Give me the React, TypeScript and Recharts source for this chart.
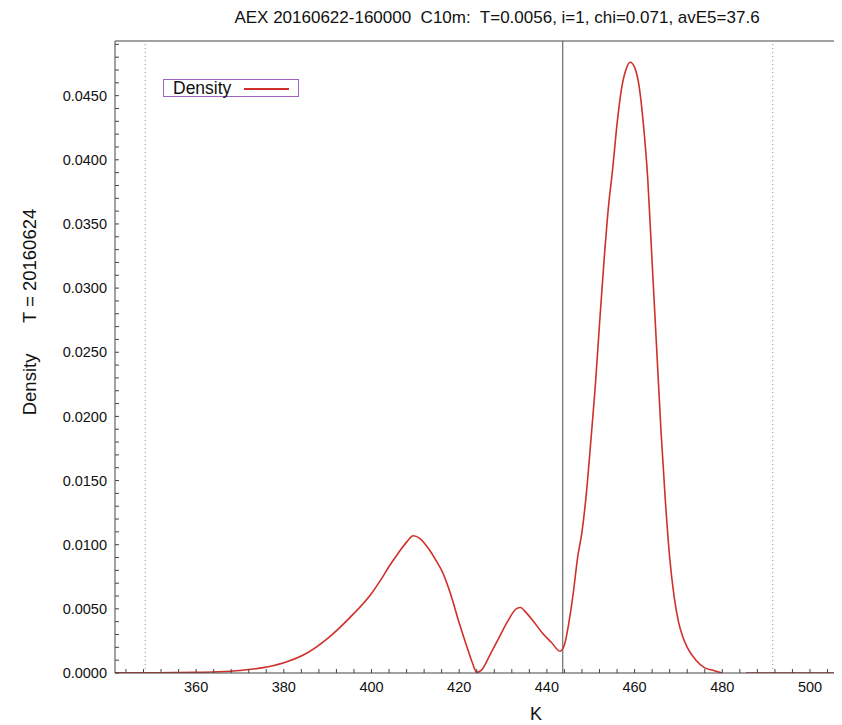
import React from "react";
import { LineChart, Line, XAxis, YAxis, ReferenceLine } from "recharts";

const K_VALUES: number[] = [
  341.5, 345, 350, 355, 360, 365, 370, 375, 380, 385, 390, 395, 400, 402, 404, 406, 408, 409.5, 411, 413,
  415, 416, 418, 420, 422, 423, 424, 425, 427, 429, 431, 433, 434, 435, 437, 439, 441, 443, 444, 445,
  446, 447, 448, 449, 450, 451, 452, 453, 454, 455, 456, 457, 458, 459, 460, 461, 462, 463, 464, 465,
  466, 467, 468, 469, 470, 471, 472, 474, 476, 478, 480, 482, 485.4, 490, 495, 500, 507.3,
];
const DENSITY: (number | null)[] = [
  0.00001, 0.00001, 0.00002, 0.00003, 0.00005, 0.0001, 0.0002, 0.0004, 0.0008, 0.0015, 0.0027, 0.0043, 0.0062, 0.0072, 0.0083, 0.0093, 0.0102, 0.0107, 0.0105, 0.0097,
  0.0086, 0.008, 0.0062, 0.0039, 0.0018, 0.0008, 0.00005, 0.0002, 0.0014, 0.0027, 0.004, 0.005, 0.0051, 0.0048, 0.004, 0.0031, 0.0024, 0.0017, 0.0022, 0.0039,
  0.0062, 0.009, 0.011, 0.014, 0.018, 0.0222, 0.0272, 0.032, 0.0362, 0.0393, 0.0428, 0.0455, 0.047, 0.0476, 0.0472, 0.0458, 0.0428, 0.0385, 0.032, 0.0255,
  0.019, 0.0135, 0.009, 0.006, 0.004, 0.0028, 0.002, 0.001, 0.0004, 0.0002, 0.0, null, 0.0, 0.0, 0.0, 0.0, 0.0,
];

const X_MAJOR_TICKS: number[] = [360, 380, 400, 420, 440, 460, 480, 500];
const Y_MAJOR_TICKS: number[] = [0, 0.005, 0.01, 0.015, 0.02, 0.025, 0.03, 0.035, 0.04, 0.045];
const X_DOMAIN: [number, number] = [341.5, 507.3];
const Y_DOMAIN: [number, number] = [0, 0.04926];
const CURRENT_K = 443.6;
const BAND_K: number[] = [348.4, 491.5];

const TITLE = "AEX 20160622-160000  C10m:  T=0.0056, i=1, chi=0.071, avE5=37.6";
const Y_LABEL = "Density      T = 20160624";
const X_LABEL = "K";
const SERIES_NAME = "Density";

const data = K_VALUES.map((k, i) => ({ k, v: DENSITY[i] }));

const xTicks: number[] = [];
for (let t = 344; t <= 507; t += 4) xTicks.push(t);
const yTicks: number[] = [];
for (let i = 0; i <= 49; i++) yTicks.push(Math.round(i * 1000) / 1000000);

const isXMajor = (v: number) => X_MAJOR_TICKS.includes(v);
const isYMajor = (v: number) => Y_MAJOR_TICKS.some((m) => Math.abs(m - v) < 1e-9);

const FONT = "'Liberation Sans', Arial, Helvetica, sans-serif";
const AXIS = "#444";
const RED = "#d0302a";

export default function App() {
  return (
    <div style={{ position: "relative", width: 834, height: 717, fontFamily: FONT }}>
      <LineChart width={834} height={717} data={data} margin={{ top: 32, right: 0, bottom: 12, left: 27 }}>
        <XAxis
          xAxisId="top"
          orientation="top"
          dataKey="k"
          type="number"
          domain={X_DOMAIN}
          allowDataOverflow
          ticks={xTicks}
          interval={0}
          height={1}
          tick={false}
          tickSize={-4}
          axisLine={{ stroke: AXIS }}
          tickLine={{ stroke: AXIS }}
        />
        <XAxis
          dataKey="k"
          type="number"
          domain={X_DOMAIN}
          allowDataOverflow
          ticks={xTicks}
          interval={0}
          height={40}
          tickSize={-4}
          tickMargin={13}
          tickFormatter={(v: number) => (isXMajor(v) ? String(v) : "")}
          tick={{ fill: "#111", fontSize: 14.5, fontFamily: FONT }}
          axisLine={{ stroke: AXIS }}
          tickLine={{ stroke: AXIS }}
        />
        <YAxis
          type="number"
          domain={Y_DOMAIN}
          allowDataOverflow
          ticks={yTicks}
          interval={0}
          width={80}
          tickSize={-4}
          tickMargin={12}
          tickFormatter={(v: number) => (isYMajor(v) ? v.toFixed(4) : "")}
          tick={{ fill: "#111", fontSize: 14.5, fontFamily: FONT }}
          axisLine={{ stroke: AXIS }}
          tickLine={{ stroke: AXIS }}
        />
        {BAND_K.map((b) => (
          <ReferenceLine key={b} x={b} stroke="#888" strokeDasharray="1 3" strokeWidth={1} />
        ))}
        <ReferenceLine x={CURRENT_K} stroke="#777" strokeWidth={1.3} />
        <Line
          type="monotone"
          dataKey="v"
          stroke={RED}
          strokeWidth={1.6}
          dot={false}
          connectNulls={false}
          isAnimationActive={false}
        />
      </LineChart>
      <div
        style={{
          position: "absolute",
          left: 489,
          top: 10,
          transform: "translate(-50%, -50%)",
          fontSize: 17,
          whiteSpace: "pre",
          color: "#111",
        }}
      >
        {TITLE}
      </div>
      <div
        style={{
          position: "absolute",
          left: 22,
          top: 304,
          transform: "translate(-50%, -50%) rotate(-90deg)",
          fontSize: 18.5,
          whiteSpace: "pre",
          color: "#111",
        }}
      >
        {Y_LABEL}
      </div>
      <div
        style={{
          position: "absolute",
          left: 528,
          top: 706,
          transform: "translate(-50%, -50%)",
          fontSize: 18,
          color: "#111",
        }}
      >
        {X_LABEL}
      </div>
      <div
        style={{
          position: "absolute",
          left: 155,
          top: 71,
          width: 134,
          height: 16,
          border: "1px solid #a064c8",
          boxSizing: "content-box",
        }}
      >
        <span
          style={{
            position: "absolute",
            left: 9,
            top: -2,
            fontSize: 17.5,
            lineHeight: "20px",
            color: "#111",
          }}
        >
          {SERIES_NAME}
        </span>
        <div style={{ position: "absolute", left: 80, top: 8, width: 45, height: 1.5, background: RED }} />
      </div>
    </div>
  );
}
